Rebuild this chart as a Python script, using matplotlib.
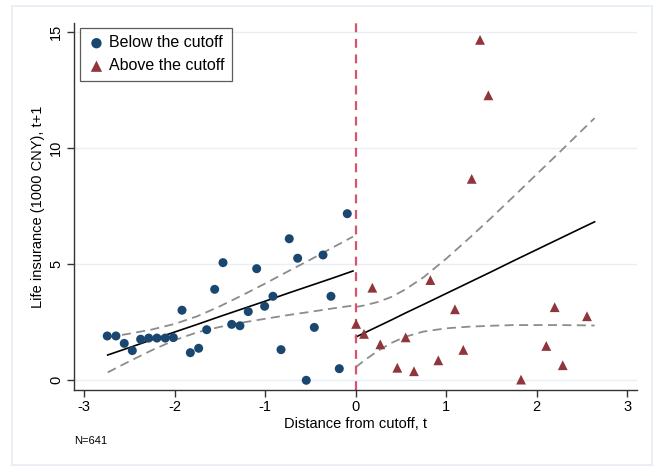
import matplotlib
matplotlib.use("Agg")
import matplotlib.pyplot as plt
from matplotlib.patches import Rectangle

plt.rcParams['font.family'] = ['Liberation Sans', 'DejaVu Sans']

# --- binned means, below the cutoff ---
below_x = [-2.745, -2.649, -2.557, -2.468, -2.376, -2.287, -2.196, -2.104, -2.015,
           -1.919, -1.827, -1.735, -1.646, -1.558, -1.466, -1.370, -1.279, -1.187,
           -1.094, -1.006, -0.914, -0.825, -0.734, -0.641, -0.546, -0.457, -0.361,
           -0.273, -0.181, -0.093]
below_y = [1.91, 1.91, 1.59, 1.28, 1.77, 1.82, 1.82, 1.82, 1.84,
           3.02, 1.19, 1.38, 2.18, 3.92, 5.07, 2.41, 2.35, 2.96,
           4.81, 3.19, 3.62, 1.32, 6.10, 5.26, 0.00, 2.28, 5.40,
           3.62, 0.50, 7.18]

# --- binned means, above the cutoff ---
above_x = [0.005, 0.092, 0.184, 0.272, 0.460, 0.552, 0.644, 0.825, 0.913,
           1.097, 1.189, 1.282, 1.374, 1.466, 1.827, 2.106, 2.199, 2.288, 2.556]
above_y = [2.43, 2.00, 3.99, 1.55, 0.54, 1.85, 0.39, 4.32, 0.86,
           3.06, 1.31, 8.68, 14.67, 12.28, 0.03, 1.48, 3.15, 0.65, 2.76]

# --- linear fit with 95% CI, below the cutoff ---
fitL_x = [-2.74, -2.5, -2.25, -2.0, -1.75, -1.5, -1.25, -1.0, -0.75, -0.5, -0.25, -0.03]
fitL_y = [1.09, 1.41, 1.75, 2.08, 2.41, 2.75, 3.08, 3.41, 3.75, 4.08, 4.41, 4.71]
ciL_hi = [1.85, 2.01, 2.19, 2.43, 2.76, 3.19, 3.67, 4.17, 4.69, 5.20, 5.73, 6.19]
ciL_lo = [0.34, 0.82, 1.30, 1.73, 2.07, 2.30, 2.49, 2.65, 2.81, 2.95, 3.10, 3.22]

# --- linear fit with 95% CI, above the cutoff ---
fitR_x = [0.0, 0.1, 0.25, 0.4, 0.55, 0.75, 1.0, 1.25, 1.5, 1.75, 2.0, 2.25, 2.5, 2.64]
fitR_y = [1.86, 2.05, 2.33, 2.61, 2.90, 3.27, 3.74, 4.21, 4.68, 5.16, 5.63, 6.10, 6.57, 6.83]
ciR_hi = [3.16, 3.23, 3.38, 3.60, 3.92, 4.44, 5.24, 6.11, 7.01, 7.94, 8.88, 9.82, 10.77, 11.30]
ciR_lo = [0.56, 0.87, 1.28, 1.62, 1.88, 2.10, 2.24, 2.31, 2.35, 2.38, 2.38, 2.38, 2.37, 2.36]

xticks = [-3, -2, -1, 0, 1, 2, 3]
yticks = [0, 5, 10, 15]

BLUE = '#1a476f'
RED = '#90353b'
GRAY = '#8c8c8c'
CUT = '#d9536f'

fig = plt.figure(figsize=(6.57, 4.70), dpi=100)
fig.patch.set_facecolor('white')
fig.patches.append(Rectangle((12/657, 1 - 465/470), 640/657, 459/470,
                             transform=fig.transFigure, fill=False,
                             edgecolor='#e8edf5', linewidth=1.3, zorder=0))

ax = fig.add_axes([74.3/657, 1 - 390.3/470, (636.7 - 74.3)/657, (390.3 - 22.7)/470])
ax.set_xlim(-3.109, 3.105)
ax.set_ylim(-0.431, 15.41)

for yv in yticks:
    ax.axhline(yv, color='#e8eef5', linewidth=1.0, zorder=0)

ax.plot(fitL_x, ciL_hi, color=GRAY, linestyle=(0, (5, 3)), linewidth=1.3, zorder=2)
ax.plot(fitL_x, ciL_lo, color=GRAY, linestyle=(0, (5, 3)), linewidth=1.3, zorder=2)
ax.plot(fitR_x, ciR_hi, color=GRAY, linestyle=(0, (5, 3)), linewidth=1.3, zorder=2)
ax.plot(fitR_x, ciR_lo, color=GRAY, linestyle=(0, (5, 3)), linewidth=1.3, zorder=2)
ax.plot(fitL_x, fitL_y, color='black', linewidth=1.2, zorder=2)
ax.plot(fitR_x, fitR_y, color='black', linewidth=1.2, zorder=2)

ax.scatter(below_x, below_y, s=42, marker='o', color=BLUE, edgecolors='none',
           zorder=3, label='Below the cutoff')
ax.scatter(above_x, above_y, s=50, marker='^', color=RED, edgecolors='none',
           zorder=3, label='Above the cutoff')

ax.axvline(0, color=CUT, linestyle=(0, (4, 3)), linewidth=1.6, zorder=2.5)

for side in ['top', 'right']:
    ax.spines[side].set_visible(False)
for side in ['left', 'bottom']:
    ax.spines[side].set_color('#333333')
    ax.spines[side].set_linewidth(1.0)

ax.set_xticks(xticks)
ax.set_xticklabels([str(v) for v in xticks])
ax.set_yticks(yticks)
ax.set_yticklabels([str(v) for v in yticks], rotation=90, va='center')
ax.tick_params(axis='both', direction='out', length=5, width=1, color='#333333',
               labelsize=10.5, labelcolor='black')
ax.tick_params(axis='x', pad=2)
ax.tick_params(axis='y', pad=3)

ax.set_xlabel('Distance from cutoff, t', fontsize=10.5, labelpad=2)
ax.set_ylabel('Life insurance (1000 CNY), t+1', fontsize=10.5, labelpad=3)

leg = ax.legend(loc='upper left', bbox_to_anchor=(0.011, 0.985), frameon=True,
                fancybox=False, edgecolor='#333333', fontsize=11.5,
                handletextpad=0.25, borderpad=0.45, labelspacing=0.5,
                handlelength=1.1, borderaxespad=0, markerscale=1.15)
leg.get_frame().set_linewidth(0.9)

fig.text(74/657, 1 - 441/470, 'N=641', fontsize=8, ha='left', va='center')

fig.savefig('out.png', dpi=100)
